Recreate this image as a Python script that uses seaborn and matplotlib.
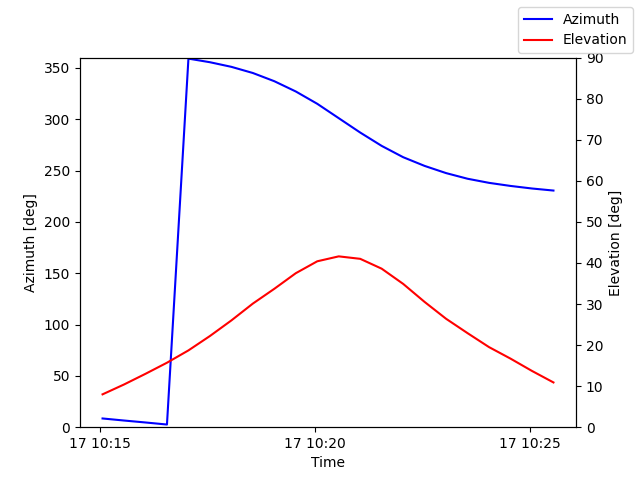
import matplotlib
matplotlib.use("Agg")
import matplotlib.pyplot as plt
import seaborn as sns
import pandas as pd

start_time = "2024-01-17 10:15:03"
step = "30s"
azimuth = [8.5, 6.5, 4.6, 2.6, 359.0, 355.5, 351.0, 345.0, 337.0, 327.0, 315.0,
           301.0, 287.0, 274.0, 263.0, 254.5, 247.5, 242.0, 238.0, 235.0, 232.5, 230.5]
elevation = [8.0, 10.4, 13.0, 15.7, 18.7, 22.2, 26.0, 30.1, 33.7, 37.5, 40.4,
             41.6, 41.0, 38.6, 34.9, 30.5, 26.4, 22.9, 19.5, 16.7, 13.7, 10.9]

times = pd.date_range(start_time, periods=len(azimuth), freq=step)
df = pd.DataFrame({"Time": times, "Azimuth": azimuth, "Elevation": elevation})

fig, ax = plt.subplots(figsize=(6.4, 4.8), dpi=100)
sns.lineplot(data=df, x="Time", y="Azimuth", color="blue", label="Azimuth", legend=False, ax=ax)
ax2 = ax.twinx()
sns.lineplot(data=df, x="Time", y="Elevation", color="red", label="Elevation", legend=False, ax=ax2)

ax.set_ylim(0, 360)
ax2.set_ylim(0, 90)
ax.set_xlabel("Time")
ax.set_ylabel("Azimuth [deg]")
ax2.set_ylabel("Elevation [deg]")
fig.legend(loc="upper right")

fig.savefig("out.png", dpi=100)
